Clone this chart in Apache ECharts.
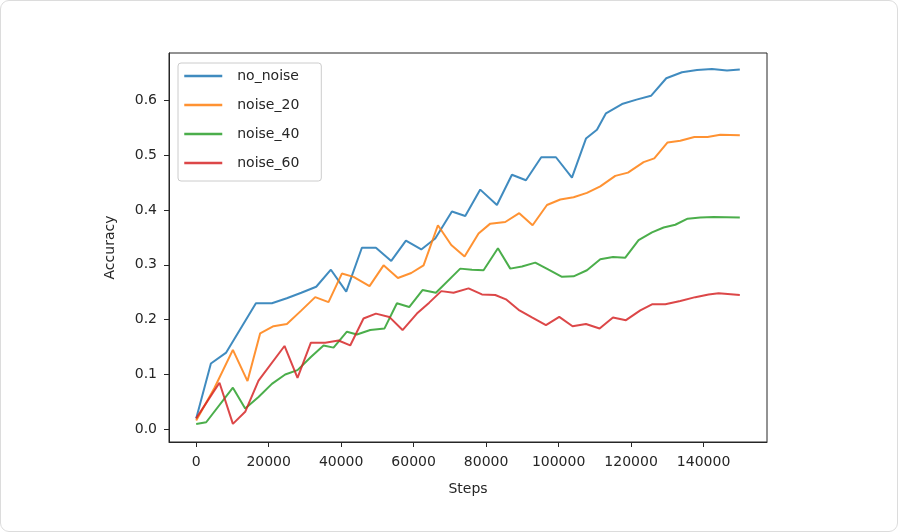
<!DOCTYPE html>
<html>
<head>
<meta charset="utf-8">
<script src="https://cdn.jsdelivr.net/npm/echarts@6/dist/echarts.min.js"></script>
<style>
  html, body { margin: 0; padding: 0; background: #ffffff; }
  #chart { position: absolute; left: 0; top: 0; width: 898px; height: 532px; }
  #frame { position: absolute; left: 0; top: 0; width: 896px; height: 530px;
           border: 1px solid #dcdcdc; border-radius: 9px; pointer-events: none; }
</style>
</head>
<body>
<div id="chart"></div>
<div id="frame"></div>
<script>
// ---- Data ----
const seriesNames = ['no_noise', 'noise_20', 'noise_40', 'noise_60'];
const seriesColors = ['#1f77b4', '#ff7f0e', '#2ca02c', '#d62728'];

const xTicks = [0, 20000, 40000, 60000, 80000, 100000, 120000, 140000];
const yTicks = [0.0, 0.1, 0.2, 0.3, 0.4, 0.5, 0.6];

const noNoiseSteps = [0, 4060, 8280, 16480, 20890, 25000, 29000, 33120, 37170, 41400, 45720, 49590, 53820, 57870, 62100, 65960, 70560, 74240, 78380, 82980, 87120, 90990, 95210, 99270, 103680, 107550, 110580, 113070, 117490, 121500, 125490, 129710, 134040, 138190, 142320, 146460, 150000];
const noNoiseAcc = [0.020, 0.120, 0.140, 0.230, 0.230, 0.239, 0.249, 0.260, 0.291, 0.251, 0.331, 0.331, 0.307, 0.344, 0.328, 0.348, 0.397, 0.389, 0.437, 0.409, 0.464, 0.454, 0.496, 0.496, 0.459, 0.530, 0.546, 0.576, 0.593, 0.601, 0.608, 0.640, 0.651, 0.655, 0.657, 0.654, 0.656];

const noise20Steps = [0, 5000, 10125, 14160, 17660, 21340, 25030, 28900, 32840, 36510, 40200, 43420, 47830, 51700, 55660, 59340, 62740, 66700, 70380, 74050, 77910, 81140, 85280, 89140, 92820, 96790, 100460, 104130, 107820, 111500, 115640, 119140, 123450, 126400, 130070, 133570, 137440, 141110, 144610, 150000];
const noise20Acc = [0.016, 0.075, 0.145, 0.088, 0.175, 0.188, 0.192, 0.216, 0.241, 0.232, 0.284, 0.278, 0.261, 0.299, 0.276, 0.285, 0.299, 0.372, 0.336, 0.315, 0.357, 0.375, 0.378, 0.394, 0.372, 0.409, 0.419, 0.423, 0.431, 0.443, 0.462, 0.468, 0.487, 0.494, 0.523, 0.526, 0.533, 0.533, 0.537, 0.536];

const noise40Steps = [0, 2760, 10130, 13520, 17200, 20890, 24560, 27960, 31650, 35140, 37900, 41590, 44350, 48020, 51970, 55390, 58780, 62450, 66150, 72860, 76090, 79290, 83260, 86660, 89890, 93560, 97230, 100930, 104130, 107820, 111500, 115000, 118400, 122070, 125770, 128970, 132190, 135590, 139090, 142770, 150000];
const noise40Acc = [0.010, 0.013, 0.076, 0.038, 0.059, 0.083, 0.100, 0.108, 0.132, 0.153, 0.149, 0.178, 0.173, 0.181, 0.184, 0.230, 0.223, 0.254, 0.249, 0.293, 0.291, 0.290, 0.330, 0.293, 0.297, 0.304, 0.291, 0.278, 0.279, 0.290, 0.310, 0.314, 0.313, 0.345, 0.359, 0.368, 0.373, 0.384, 0.386, 0.387, 0.386];

const noise60Steps = [0, 6430, 10130, 13520, 17200, 24370, 27960, 31650, 35600, 39270, 42500, 46170, 49590, 53270, 56940, 60900, 64300, 67620, 71010, 75150, 78840, 82520, 85470, 88950, 92640, 96510, 100180, 103850, 107550, 111310, 115000, 118590, 122540, 125770, 129440, 133570, 137710, 141390, 144150, 150000];
const noise60Acc = [0.020, 0.085, 0.010, 0.032, 0.089, 0.152, 0.094, 0.158, 0.158, 0.162, 0.153, 0.202, 0.211, 0.205, 0.181, 0.211, 0.231, 0.252, 0.249, 0.257, 0.246, 0.245, 0.237, 0.218, 0.204, 0.190, 0.205, 0.188, 0.192, 0.184, 0.204, 0.199, 0.217, 0.228, 0.228, 0.234, 0.241, 0.246, 0.248, 0.245];

const allSteps = [noNoiseSteps, noise20Steps, noise40Steps, noise60Steps];
const allAcc = [noNoiseAcc, noise20Acc, noise40Acc, noise60Acc];

// ---- Chart ----
const chart = echarts.init(document.getElementById('chart'), null, { renderer: 'canvas' });
const font = 'DejaVu Sans';
const textColor = '#262626';

const series = seriesNames.map((name, k) => ({
  name: name,
  type: 'line',
  data: allSteps[k].map((s, i) => [s, allAcc[k][i]]),
  symbol: 'none',
  showSymbol: false,
  smooth: false,
  animation: false,
  lineStyle: { color: seriesColors[k], width: 2, opacity: 0.85 },
  itemStyle: { color: seriesColors[k], opacity: 0.85 }
}));

chart.setOption({
  backgroundColor: '#ffffff',
  animation: false,
  grid: {
    left: 169, right: 131, top: 53, bottom: 90,
    show: true, borderColor: '#262626', borderWidth: 1,
    backgroundColor: 'transparent'
  },
  legend: {
    orient: 'vertical',
    left: 178, top: 63,
    itemWidth: 38, itemHeight: 14, itemGap: 15,
    padding: [6, 22, 11, 5],
    borderColor: '#cccccc', borderWidth: 1, borderRadius: 3,
    backgroundColor: 'rgba(255,255,255,0.8)',
    itemStyle: { opacity: 0 },
    lineStyle: { width: 2.5, opacity: 0.85 },
    textStyle: { fontFamily: font, fontSize: 14, color: textColor, padding: [0, 0, 0, 10] },
    data: seriesNames
  },
  xAxis: {
    type: 'value',
    min: -7500, max: 157500,
    name: 'Steps', nameLocation: 'middle', nameGap: 40,
    nameTextStyle: { fontFamily: font, fontSize: 14, color: textColor },
    axisLine: { show: true, onZero: false, lineStyle: { color: '#262626', width: 1 } },
    axisTick: { show: true, inside: false, length: 5, customValues: xTicks, lineStyle: { color: '#262626', width: 1 } },
    axisLabel: { margin: 13, fontFamily: font, fontSize: 14, color: textColor, customValues: xTicks,
                 formatter: v => String(v) },
    splitLine: { show: false }
  },
  yAxis: {
    type: 'value',
    min: -0.023, max: 0.686,
    name: 'Accuracy', nameLocation: 'middle', nameGap: 52,
    nameTextStyle: { fontFamily: font, fontSize: 14, color: textColor },
    axisLine: { show: true, onZero: false, lineStyle: { color: '#262626', width: 1 } },
    axisTick: { show: true, inside: false, length: 5, customValues: yTicks, lineStyle: { color: '#262626', width: 1 } },
    axisLabel: { margin: 12, fontFamily: font, fontSize: 14, color: textColor, customValues: yTicks,
                 formatter: v => v.toFixed(1) },
    splitLine: { show: false }
  },
  series: series
});
</script>
</body>
</html>
